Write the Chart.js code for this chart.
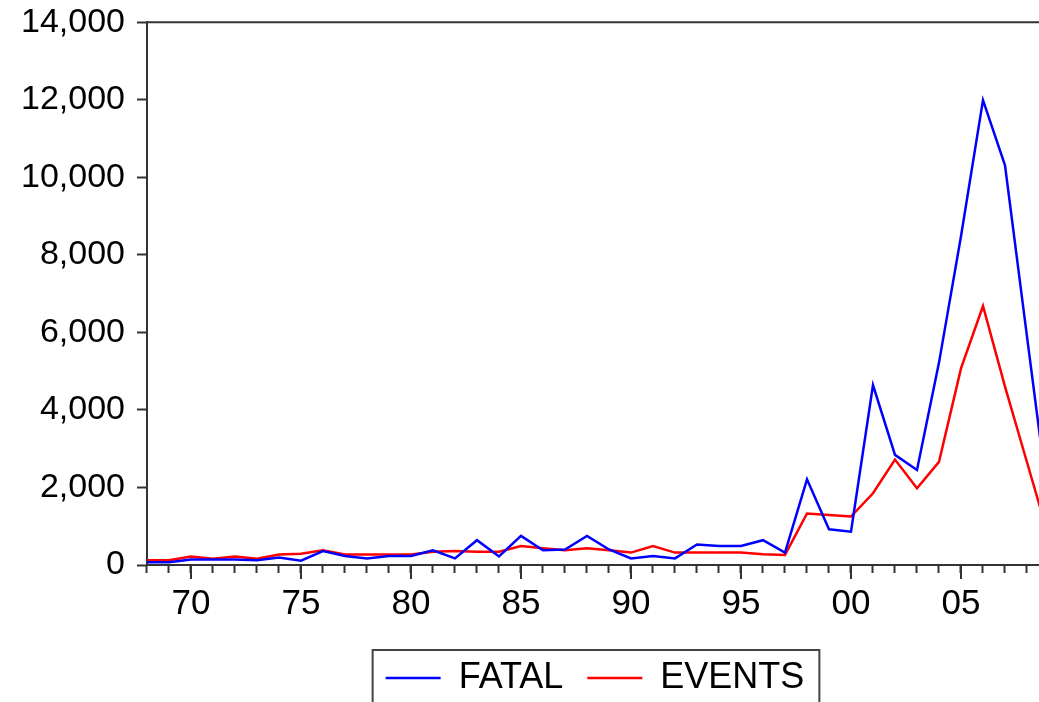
<!DOCTYPE html>
<html>
<head>
<meta charset="utf-8">
<title>FATAL / EVENTS</title>
<script src="https://cdn.jsdelivr.net/npm/chart.js@4.4.0/dist/chart.umd.min.js"></script>
<style>
    html, body { margin: 0; padding: 0; background: #fff; overflow: hidden; }
    #wrap { position: relative; width: 1181px; height: 709px; }
</style>
</head>
<body>
<div id="wrap"><canvas id="chart"></canvas></div>
<script>
// yearly values
var years = [1968, 1969, 1970, 1971, 1972, 1973, 1974, 1975, 1976, 1977,
    1978, 1979, 1980, 1981, 1982, 1983, 1984, 1985, 1986, 1987,
    1988, 1989, 1990, 1991, 1992, 1993, 1994, 1995, 1996, 1997,
    1998, 1999, 2000, 2001, 2002, 2003, 2004, 2005, 2006, 2007,
    2008, 2009];
var fatal = [70, 70, 140, 140, 140, 120, 190, 110, 360, 230,
    170, 230, 230, 380, 170, 640, 220, 750, 380, 400,
    750, 400, 170, 230, 170, 530, 490, 490, 640, 320,
    2210, 920, 860, 4640, 2840, 2450, 5220, 8480, 11990, 10310,
    5890, 1500];
var events = [120, 120, 220, 160, 220, 160, 270, 290, 380, 270,
    270, 270, 270, 340, 360, 340, 340, 490, 430, 380,
    430, 380, 320, 490, 320, 320, 320, 320, 280, 260,
    1330, 1290, 1250, 1850, 2720, 1980, 2660, 5070, 6680, 4600,
    2650, 700];
var yTicks = [0, 2000, 4000, 6000, 8000, 10000, 12000, 14000];
var labelYears = [1970, 1975, 1980, 1985, 1990, 1995, 2000, 2005, 2010];

var fontFamily = "'Liberation Sans', Arial, sans-serif";
var axisColor = '#333';

function toPoints(values) {
    var pts = [];
    for (var i = 0; i < years.length; i++) {
        pts.push({ x: years[i], y: values[i] });
    }
    return pts;
}

// top frame line, long ticks every 5 years, box round the legend
var frameLines = {
    id: 'frameLines',
    afterDraw: function (chart) {
        var ctx = chart.ctx;
        var area = chart.chartArea;
        var xs = chart.scales.x;
        ctx.save();
        ctx.strokeStyle = axisColor;
        ctx.lineWidth = 2;
        ctx.beginPath();
        ctx.moveTo(area.left - 1, area.top);
        ctx.lineTo(area.right, area.top);
        labelYears.forEach(function (yr) {
            var px = Math.round(xs.getPixelForValue(yr));
            ctx.moveTo(px, area.bottom);
            ctx.lineTo(px, area.bottom + 14);
        });
        ctx.stroke();

        var boxes = chart.legend.legendHitBoxes;
        if (boxes && boxes.length) {
            var first = boxes[0];
            var last = boxes[boxes.length - 1];
            var l = first.left - 13;
            var r = last.left + last.width + 15;
            var t = first.top - 10;
            var b = first.top + first.height + 10;
            ctx.lineWidth = 2;
            ctx.strokeStyle = '#444';
            ctx.strokeRect(l, t, r - l, b - t);
        }
        ctx.restore();
    }
};

var ctx = document.getElementById('chart');
var myChart = new Chart(ctx, {
    type: 'line',
    data: {
        datasets: [
            {
                label: 'FATAL',
                data: toPoints(fatal),
                borderColor: '#0000ff',
                backgroundColor: '#0000ff',
                borderWidth: 2.5,
                pointRadius: 0,
                tension: 0
            },
            {
                label: 'EVENTS',
                data: toPoints(events),
                borderColor: '#ff0000',
                backgroundColor: '#ff0000',
                borderWidth: 2.5,
                pointRadius: 0,
                tension: 0
            }
        ]
    },
    options: {
        responsive: true,
        maintainAspectRatio: false,
        animation: false,
        layout: {
            padding: { left: 9, right: 0, top: 12, bottom: 3 }
        },
        plugins: {
            tooltip: { enabled: false },
            legend: {
                position: 'bottom',
                labels: {
                    usePointStyle: true,
                    pointStyle: 'line',
                    pointStyleWidth: 55,
                    boxWidth: 55,
                    padding: 24,
                    color: '#000',
                    font: { family: fontFamily, size: 36 }
                }
            }
        },
        scales: {
            x: {
                type: 'linear',
                min: 1968,
                max: 2015,
                ticks: {
                    stepSize: 1,
                    includeBounds: false,
                    autoSkip: false,
                    maxRotation: 0,
                    padding: 0,
                    color: '#000',
                    font: { family: fontFamily, size: 35, lineHeight: 1.8 },
                    callback: function (value) {
                        if (labelYears.indexOf(value) < 0) return '';
                        return String(value).slice(2);
                    }
                },
                grid: {
                    drawOnChartArea: false,
                    tickLength: 8,
                    tickWidth: 2,
                    tickColor: axisColor
                },
                border: { color: axisColor, width: 2 }
            },
            y: {
                min: 0,
                max: 14000,
                afterBuildTicks: function (scale) {
                    scale.ticks = yTicks.map(function (v) { return { value: v }; });
                },
                ticks: {
                    padding: 12,
                    color: '#000',
                    font: { family: fontFamily, size: 34, lineHeight: 0.6 },
                    callback: function (value) {
                        return value.toLocaleString('en-US');
                    }
                },
                grid: {
                    drawOnChartArea: false,
                    tickLength: 10,
                    tickWidth: 2,
                    tickColor: axisColor
                },
                border: { color: axisColor, width: 2 }
            }
        }
    },
    plugins: [frameLines]
});
</script>
</body>
</html>
